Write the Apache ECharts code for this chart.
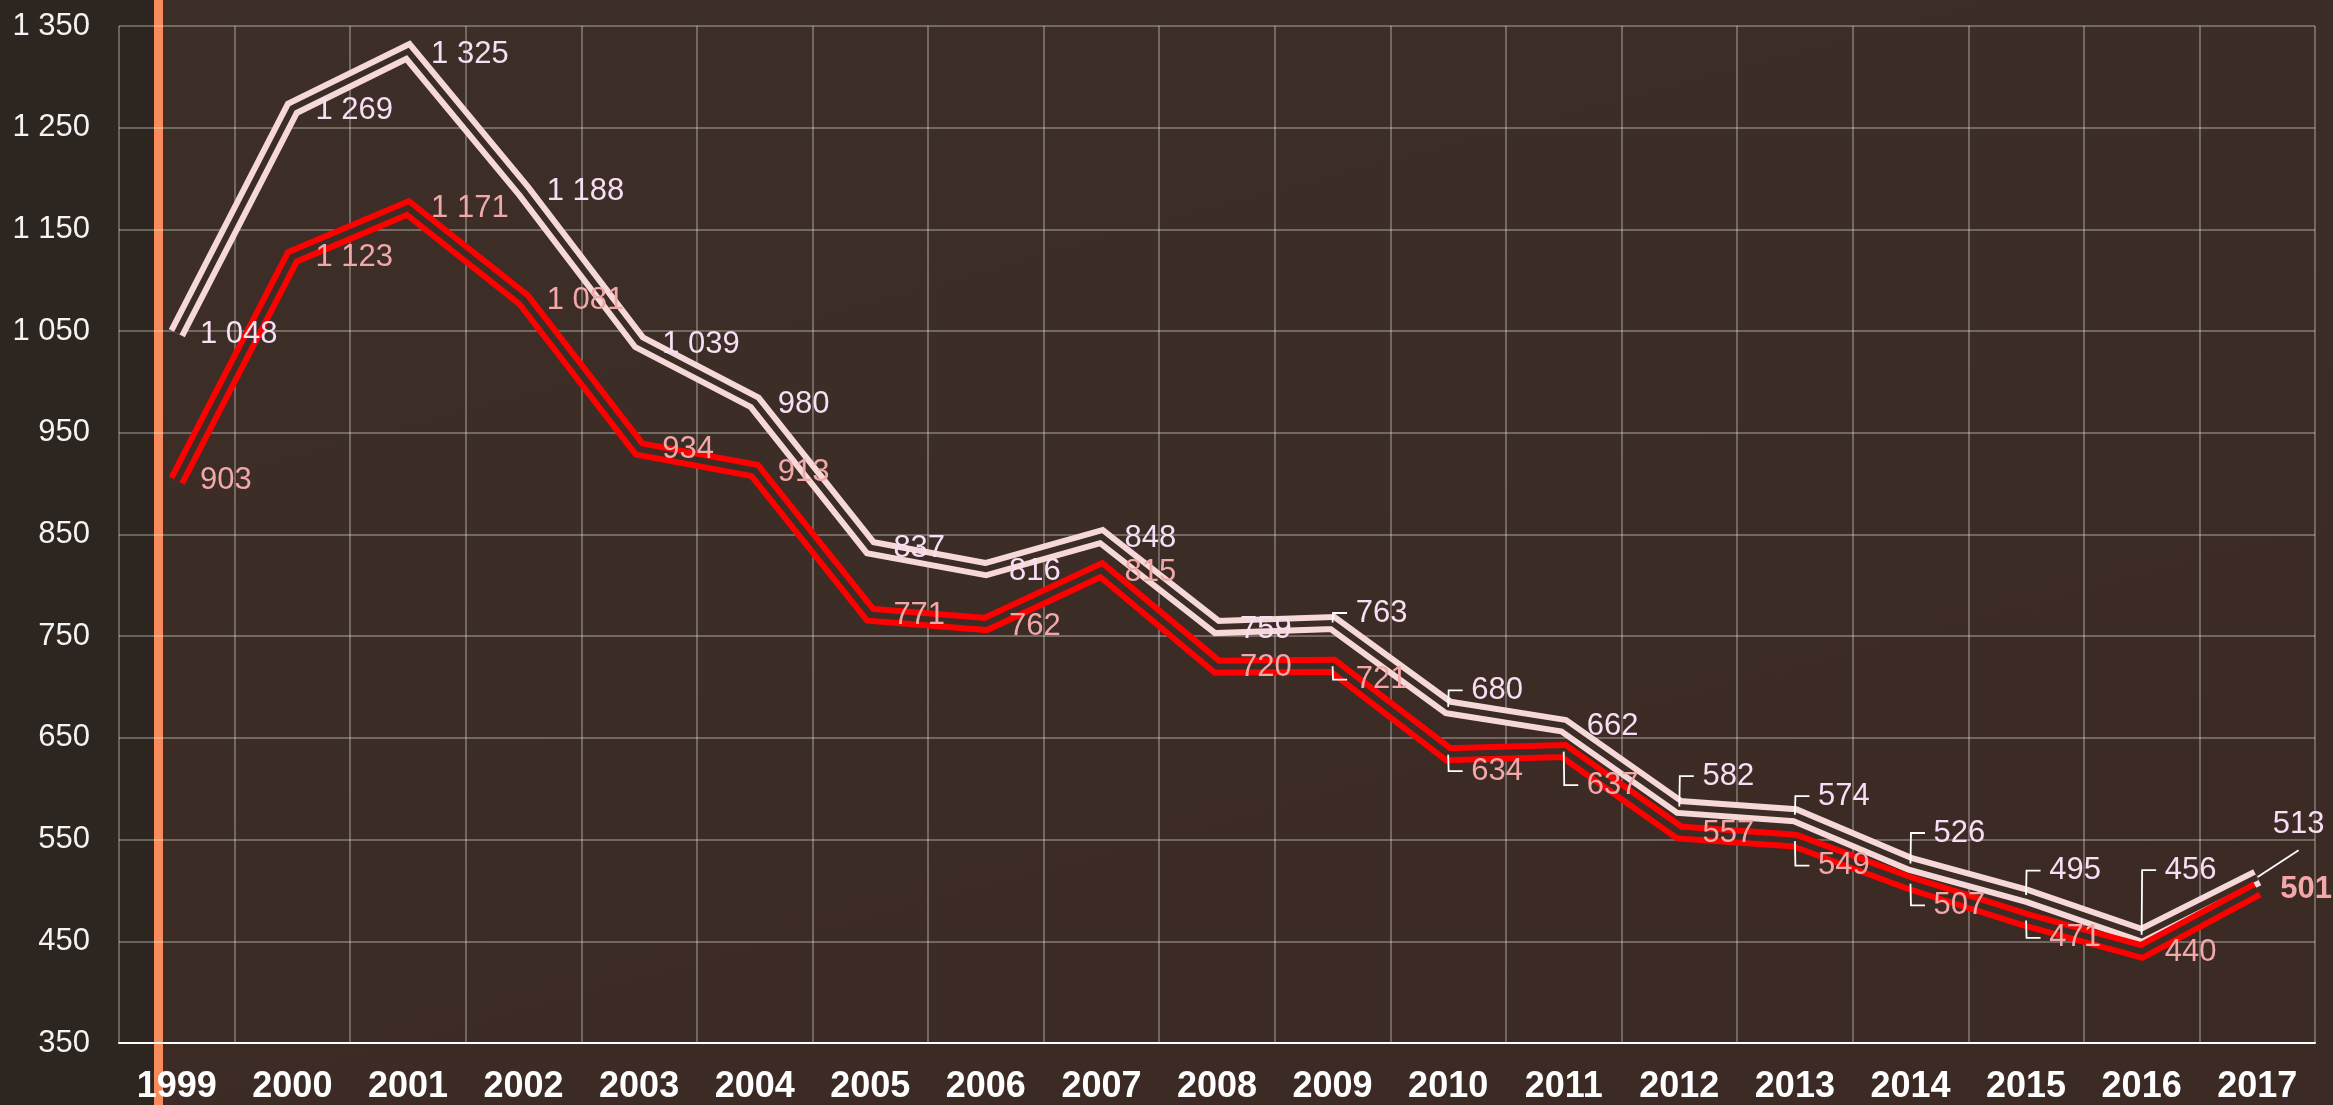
<!DOCTYPE html>
<html><head><meta charset="utf-8">
<script src="https://cdn.jsdelivr.net/npm/echarts@6/dist/echarts.min.js"></script>
<style>
html,body{margin:0;padding:0;width:2333px;height:1105px;overflow:hidden;}
body{background:
 linear-gradient(to right,#2d2520 0,#2d2520 154px,#f98a5c 154px,#f98a5c 163px,rgba(0,0,0,0) 163px),
 linear-gradient(165deg,#3d2f27 0%,#3b2c25 55%,#3c2a24 100%);}
#c{width:2333px;height:1105px;}
</style></head><body><div id="c"></div>
<script>
const years = ['1999','2000','2001','2002','2003','2004','2005','2006','2007','2008','2009','2010','2011','2012','2013','2014','2015','2016','2017'];
const totalValues  = [1048,1269,1325,1188,1039,980,837,816,848,759,763,680,662,582,574,526,495,456,513];
const subsetValues = [903,1123,1171,1081,934,913,771,762,815,720,721,634,637,557,549,507,471,440,501];
const yMin = 350, yMax = 1350, yStep = 100;

// vertical label shifts (px) used by labelLayout
const totalLabelShift  = [1,2,3,1,2,2,1,2,2,2,-10,-17,1,-31,-19,-31,-25,-65,-53];
const subsetLabelShift = [0,1,0,1,0,2,1,2,2,1,14,17,34,1,25,22,18,1,0];

const FONT = 'Liberation Sans, Arial, Helvetica, sans-serif';
const BG = '#3b2c25';
const PINK_LINE = '#f6d8d8', RED_LINE = '#ff0000';
const PINK_TEXT = '#f8def4', RED_TEXT = '#f2a8a8';

function fmt(v){
  v = Math.round(v);
  if (v >= 1000) return Math.floor(v/1000) + ' ' + String(v % 1000).padStart(3,'0');
  return String(v);
}

function buildItems(values, shifts, isTotal){
  const last = values.length - 1;
  return values.map((v,i) => {
    const item = { value: v };
    item.labelLine = { show: Math.abs(shifts[i]) > 5 };
    if (isTotal && i === last) {
      item.label = { lineHeight: 52, formatter: p => fmt(p.value) };
      item.labelLine = { show: true, length2: 0 };
    }
    if (!isTotal && i === last) {
      item.label = { fontWeight: 'bold' };
    }
    return item;
  });
}

function seriesPair(name, values, shifts, lineColor, textColor, isTotal){
  const last = values.length - 1;
  return [
    {
      name: name + '-outer', type: 'line', data: values, showSymbol: false, silent: true,
      lineStyle: { color: lineColor, width: 18, join: 'miter', miterLimit: 10, cap: 'butt' },
      z: 2
    },
    {
      name: name, type: 'line', data: buildItems(values, shifts, isTotal),
      symbol: 'circle', symbolSize: 1, showSymbol: true, showAllSymbol: true, silent: true,
      itemStyle: { color: 'rgba(0,0,0,0)' },
      lineStyle: { color: BG, width: 6, join: 'miter', miterLimit: 10, cap: 'butt' },
      label: {
        show: true, position: 'right', distance: 14,
        fontFamily: FONT, fontSize: 31, color: textColor,
        formatter: p => ' ' + fmt(p.value) + '      '
      },
      labelLine: { show: false, length2: 14, lineStyle: { color: '#ffffff', width: 1.8 } },
      labelLayout: p => {
        const o = { dy: shifts[p.dataIndex] };
        if (isTotal && p.dataIndex === last) o.dx = 1;
        return o;
      },
      emphasis: { disabled: true },
      z: 2
    }
  ];
}

const chart = echarts.init(document.getElementById('c'), null, { renderer: 'canvas' });
chart.setOption({
  backgroundColor: 'transparent',
  animation: false,
  grid: { left: 119, right: 18, top: 26, bottom: 62, containLabel: false },
  xAxis: {
    type: 'category', data: years, boundaryGap: true,
    axisLine: { show: true, lineStyle: { color: '#ffffff', width: 2 } },
    axisTick: { show: false },
    axisLabel: { color: '#ffffff', fontFamily: FONT, fontWeight: 'bold', fontSize: 36, margin: 26 },
    splitLine: { show: true, lineStyle: { color: 'rgba(255,255,255,0.38)', width: 1.5 } }
  },
  yAxis: {
    type: 'value', min: yMin, max: yMax, interval: yStep,
    axisLine: { show: false }, axisTick: { show: false },
    axisLabel: { color: '#f4f4f4', fontFamily: FONT, fontSize: 31, margin: 29, formatter: v => fmt(v) },
    splitLine: { show: true, lineStyle: { color: 'rgba(255,255,255,0.38)', width: 1.5 } }
  },
  series: [
    ...seriesPair('total', totalValues, totalLabelShift, PINK_LINE, PINK_TEXT, true),
    ...seriesPair('subset', subsetValues, subsetLabelShift, RED_LINE, RED_TEXT, false)
  ]
});
</script>
</body></html>
